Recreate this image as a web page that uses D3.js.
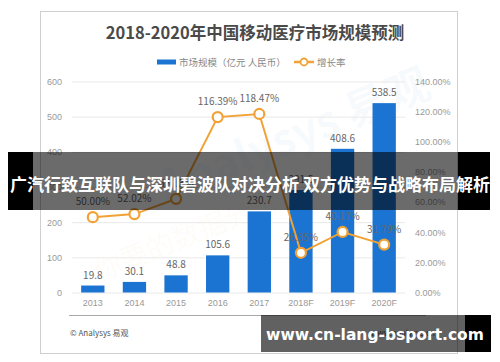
<!DOCTYPE html>
<meta charset="utf-8">
<style>
body { margin: 0; background: #fff; }
svg { display: block; font-family: "Noto Sans CJK SC", "Noto Sans", sans-serif; }
.axis text { fill: #999; font-size: 9px; }
.grid line { stroke: #e9e9e9; }
.val { fill: #666; font-size: 10px; text-anchor: middle; }
</style>
<svg id="chart" width="500" height="362"></svg>
<script src="https://cdn.jsdelivr.net/npm/d3@7"></script>
<script>
var years = ["2013", "2014", "2015", "2016", "2017", "2018F", "2019F", "2020F"];
var market = [19.8, 30.1, 48.8, 105.6, 230.7, 291.5, 408.6, 538.5];
var growth = [50.00, 52.02, 62.13, 116.39, 118.47, 26.35, 40.17, 31.79];
var leftTicks = [0, 100, 200, 300, 400, 500, 600];
var rightTicks = [0, 20, 40, 60, 80, 100, 120, 140];

var svg = d3.select("#chart");
var blue = "#1b74d1", orange = "#f2a235";

// card frame
svg.append("rect")
    .attr("x", 40.5).attr("y", 11.5).attr("width", 417).attr("height", 342)
    .attr("fill", "#fff").attr("stroke", "#cfcfcf");

svg.append("text")
    .attr("x", 255).attr("y", 39)
    .attr("text-anchor", "middle")
    .style("font-size", "16.5px").style("font-weight", "bold").attr("fill", "#4a4a4a")
    .text("2018-2020年中国移动医疗市场规模预测");

// legend
var lg = svg.append("g").style("font-size", "9.5px").attr("fill", "#888");
lg.append("rect").attr("x", 157).attr("y", 59.5).attr("width", 19).attr("height", 5).attr("fill", blue);
lg.append("text").attr("x", 179).attr("y", 65.5).text("市场规模（亿元 人民币）");
lg.append("line").attr("x1", 294).attr("x2", 314).attr("y1", 62).attr("y2", 62)
    .attr("stroke", orange).attr("stroke-width", 2.5);
lg.append("circle").attr("cx", 304).attr("cy", 62).attr("r", 3.5)
    .attr("fill", "#fff").attr("stroke", orange).attr("stroke-width", 1.8);
lg.append("text").attr("x", 317).attr("y", 65.5).text("增长率");

var x = d3.scaleBand().domain(years).range([72, 405]).paddingInner(0.44).paddingOuter(0.22);
var y = d3.scaleLinear().domain([0, 600]).range([292.5, 81.5]);
var y2 = d3.scaleLinear().domain([0, 140]).range([292.5, 81.5]);

// faint watermark
svg.append("text")
    .attr("transform", "translate(300,150) rotate(-22)")
    .attr("text-anchor", "middle")
    .style("font-size", "44px").style("font-weight", "bold")
    .attr("fill", "#1b74d1").attr("fill-opacity", 0.045)
    .text("Analysys 易观");
svg.append("text")
    .attr("transform", "translate(190,245) rotate(-22)")
    .attr("text-anchor", "middle")
    .style("font-size", "28px")
    .attr("fill", "#f2a235").attr("fill-opacity", 0.05)
    .text("你要的数据分析");

svg.append("g")
    .attr("class", "grid")
    .attr("transform", "translate(72,0)")
    .call(d3.axisLeft(y).tickValues(leftTicks).tickSize(-333).tickFormat(""))
    .call(function(g) { g.select(".domain").remove(); });

svg.append("g")
    .attr("class", "axis")
    .attr("transform", "translate(62,0)")
    .call(d3.axisLeft(y).tickValues(leftTicks).tickSize(0).tickPadding(0))
    .call(function(g) { g.select(".domain").remove(); });

svg.append("g")
    .attr("class", "axis")
    .attr("transform", "translate(415,0)")
    .call(d3.axisRight(y2).tickValues(rightTicks).tickSize(0).tickPadding(0)
      .tickFormat(function(d) { return d.toFixed(2) + "%"; }))
    .call(function(g) { g.select(".domain").remove(); });

svg.append("g")
    .attr("class", "axis")
    .attr("transform", "translate(0,300)")
    .call(d3.axisBottom(x).tickSize(0).tickPadding(0))
    .call(function(g) { g.select(".domain").remove(); g.selectAll("text").attr("dy", "0.71em"); });

svg.append("line")
    .attr("x1", 69).attr("x2", 426).attr("y1", 315.5).attr("y2", 315.5)
    .attr("stroke", "#aaa");

svg.selectAll(".bar")
    .data(market)
  .enter().append("rect")
    .attr("class", "bar")
    .attr("x", function(d, i) { return x(years[i]); })
    .attr("y", function(d) { return y(d); })
    .attr("width", x.bandwidth())
    .attr("height", function(d) { return y(0) - y(d); })
    .attr("fill", blue);

svg.selectAll(".barlabel")
    .data(market)
  .enter().append("text")
    .attr("class", "val")
    .attr("x", function(d, i) { return x(years[i]) + x.bandwidth() / 2; })
    .attr("y", function(d) { return y(d) - 7; })
    .text(function(d) { return d.toFixed(1); });

var line = d3.line()
    .x(function(d, i) { return x(years[i]) + x.bandwidth() / 2; })
    .y(function(d) { return y2(d); });

svg.append("path")
    .datum(growth)
    .attr("d", line)
    .attr("fill", "none")
    .attr("stroke", orange)
    .attr("stroke-width", 2);

svg.selectAll(".dot")
    .data(growth)
  .enter().append("circle")
    .attr("cx", function(d, i) { return x(years[i]) + x.bandwidth() / 2; })
    .attr("cy", function(d) { return y2(d); })
    .attr("r", 5)
    .attr("fill", "#fff")
    .attr("stroke", orange)
    .attr("stroke-width", 2.2);

svg.selectAll(".glabel")
    .data(growth)
  .enter().append("text")
    .attr("class", "val")
    .attr("x", function(d, i) { return x(years[i]) + x.bandwidth() / 2; })
    .attr("y", function(d) { return y2(d) - 12; })
    .text(function(d) { return d.toFixed(2) + "%"; });

// footer
svg.append("text")
    .attr("x", 70).attr("y", 336)
    .style("font-size", "8px").attr("fill", "#555")
    .text("© Analysys 易观");
svg.append("text")
    .attr("x", 435).attr("y", 336)
    .attr("text-anchor", "end")
    .style("font-size", "8px").attr("fill", "#555")
    .text("www.analysys.cn");

// title banner overlay
svg.append("rect").attr("x", 8).attr("y", 152).attr("width", 25).attr("height", 58).attr("fill", "#000");
svg.append("rect").attr("x", 458).attr("y", 152).attr("width", 32).attr("height", 58).attr("fill", "#000");
svg.append("rect").attr("x", 33).attr("y", 152).attr("width", 425).attr("height", 58).attr("fill", "rgba(0,0,0,0.58)");
svg.append("text")
    .attr("x", 250).attr("y", 191)
    .attr("text-anchor", "middle")
    .style("font-size", "17px").style("font-weight", "bold").attr("fill", "#fff")
    .text("广汽行致互联队与深圳碧波队对决分析 双方优势与战略布局解析");

// site banner
svg.append("rect").attr("x", 261).attr("y", 315).attr("width", 204).attr("height", 37).attr("fill", "rgba(0,0,0,0.62)");
svg.append("rect").attr("x", 465).attr("y", 315).attr("width", 26).attr("height", 37).attr("fill", "#000");
svg.append("text")
    .attr("x", 375).attr("y", 340)
    .attr("text-anchor", "middle")
    .style("font-family", "DejaVu Sans, sans-serif")
    .style("font-size", "15.5px").style("font-weight", "bold").attr("fill", "#fff")
    .text("www.cn-lang-bsport.com");
</script>
